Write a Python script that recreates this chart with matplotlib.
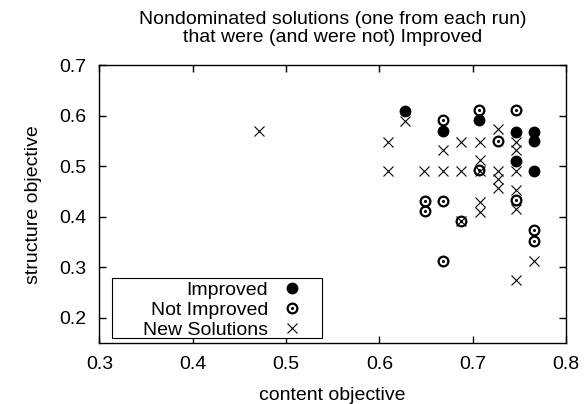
import numpy as np
import matplotlib
matplotlib.use('Agg')
import matplotlib.pyplot as plt
from matplotlib.legend_handler import HandlerTuple
from matplotlib.patches import Rectangle

plt.rcParams.update({'font.family': ['Liberation Sans', 'DejaVu Sans'], 'font.size': 14})

# Improved solutions (filled circles)
imp_x = [0.628, 0.668, 0.707, 0.746, 0.766, 0.766, 0.746, 0.766]
imp_y = [0.610, 0.571, 0.591, 0.569, 0.569, 0.551, 0.511, 0.491]

# Not improved solutions (open circles with dot)
notimp_x = [0.668, 0.707, 0.746, 0.727, 0.707, 0.649, 0.649, 0.668, 0.687, 0.746, 0.668, 0.766, 0.766]
notimp_y = [0.591, 0.611, 0.611, 0.550, 0.492, 0.432, 0.412, 0.432, 0.392, 0.434, 0.313, 0.373, 0.352]

# New solutions (crosses)
new_x = [0.471, 0.628, 0.609, 0.609, 0.648, 0.668, 0.688, 0.708, 0.668, 0.688, 0.708,
         0.727, 0.746, 0.746, 0.708, 0.727, 0.727, 0.727, 0.746, 0.746, 0.746,
         0.708, 0.708, 0.688, 0.766, 0.746]
new_y = [0.570, 0.590, 0.549, 0.490, 0.490, 0.490, 0.490, 0.490, 0.533, 0.549, 0.549,
         0.575, 0.548, 0.532, 0.513, 0.490, 0.474, 0.457, 0.490, 0.454, 0.415,
         0.430, 0.410, 0.392, 0.313, 0.275]

fig = plt.figure(figsize=(5.85, 4.04), dpi=100)
ax = fig.add_axes([0.170, 0.151, 0.7975, 0.687])

h_imp, = ax.plot(imp_x, imp_y, 'o', color='black', markersize=7.5, linestyle='none')
h_open, = ax.plot(notimp_x, notimp_y, 'o', markerfacecolor='none', markeredgecolor='black',
                  markeredgewidth=1.6, markersize=7, linestyle='none')
h_dot, = ax.plot(notimp_x, notimp_y, '.', color='black', markersize=2.5, linestyle='none')
h_new, = ax.plot(new_x, new_y, 'x', color='black', markersize=7, markeredgewidth=0.8, linestyle='none')

ax.set_xlim(0.3, 0.8)
ax.set_ylim(0.15, 0.7)
ax.set_xticks(np.arange(0.3, 0.81, 0.1))
ax.set_yticks(np.arange(0.2, 0.71, 0.1))
ax.set_xticklabels(['0.3', '0.4', '0.5', '0.6', '0.7', '0.8'])
ax.set_yticklabels(['0.2', '0.3', '0.4', '0.5', '0.6', '0.7'])
ax.tick_params(direction='in', length=5, width=1, top=True, right=True, pad=9.5)
for s in ax.spines.values():
    s.set_linewidth(1.0)

ax.set_xlabel('content objective', labelpad=10)
ax.set_ylabel('structure objective', labelpad=12)
ax.set_title('Nondominated solutions (one from each run)\nthat were (and were not) Improved',
             fontsize=14, linespacing=1.08, pad=17)

# legend: gnuplot-style box, text right-aligned then sample
ax.add_patch(Rectangle((0.026, 0.018), 0.451, 0.215, transform=ax.transAxes,
                       facecolor='white', edgecolor='black', linewidth=0.8, zorder=4))
leg = ax.legend([h_imp, (h_open, h_dot), h_new], ['Improved', 'Not Improved', 'New Solutions'],
                handler_map={tuple: HandlerTuple(ndivide=1, pad=0)},
                loc='center right', bbox_to_anchor=(0.455, 0.119), borderaxespad=0,
                markerfirst=False, frameon=False,
                labelspacing=0.13, handlelength=2.0, handletextpad=0.25, borderpad=0)
leg.set_zorder(5)

fig.savefig('out.png', dpi=100)
